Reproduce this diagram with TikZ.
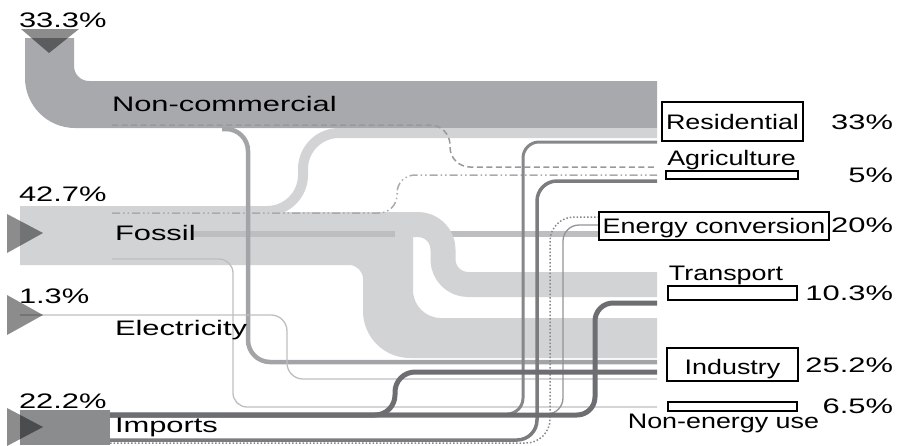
\documentclass[tikz,border=0pt]{standalone}
\usepackage{fontspec}
\setmainfont{Liberation Sans}
\newfontfamily\widefont{Liberation Sans}[FakeStretch=1.47]
\newfontfamily\boxfont{Liberation Sans}[FakeStretch=1.28]
\definecolor{ncgray}{HTML}{A7A9AC}
\definecolor{fossilgray}{HTML}{D1D3D4}
\definecolor{convgray}{HTML}{BCBEC0}
\definecolor{impgray}{HTML}{8A8C8E}
\definecolor{darkflow}{HTML}{6D6E71}
\definecolor{midflow}{HTML}{A2A4A7}
\definecolor{thinflow}{HTML}{BCBEC0}
\definecolor{greyflow}{HTML}{858789}

\begin{document}
\begin{tikzpicture}[x=1pt, y=-1pt,
    every node/.style={inner sep=0pt, outer sep=0pt},
    srclabel/.style={font=\widefont\fontsize{21}{25}\selectfont, anchor=base west},
    pctlabel/.style={font=\widefont\fontsize{21}{25}\selectfont, anchor=base east},
    sinklabel/.style={font=\boxfont\fontsize{21}{25}\selectfont, anchor=base},
    sinkbox/.style={draw, line width=1.4pt, fill=white, font=\boxfont\fontsize{21}{25}\selectfont},
    inlet/.style={fill=black, fill opacity=0.45},
    flow/.style={line width=#1, line join=round}
]
    \useasboundingbox (0,0) rectangle (899,445);

    % wide bands
    \fill[ncgray] (25,38) -- (74,38) -- (74,66) .. controls (74,74.3) and (80.7,81) .. (89,81)
        -- (657,81) -- (657,128) -- (75,128) .. controls (47.4,128) and (25,105.6) .. (25,78) -- cycle;
    \fill[fossilgray] (20,206) -- (275,206) -- (275,212) -- (413,212) -- (413,290)
        .. controls (413,305.5) and (425.5,318) .. (441,318) -- (657,318) -- (657,358) -- (410,358)
        .. controls (384,358) and (363,337) .. (363,311) -- (363,279)
        .. controls (363,271.3) and (356.7,265) .. (349,265) -- (20,265) -- cycle;
    \draw[flow=10pt, fossilgray, rounded corners=36] (20,211) -- (303,211) -- (303,133) -- (657,133);
    \draw[flow=6pt, convgray] (193,234) -- (600,234);
    \draw[flow=25pt, fossilgray, rounded corners=25] (395,224.5) -- (443,224.5) -- (443,284.5) -- (657,284.5);

    % thin flows
    \draw[flow=1.5pt, greyflow!85, dash pattern=on 6pt off 3.5pt, rounded corners=20]
        (112,125) -- (450,125) -- (450,167) -- (657,167);
    \draw[flow=1.5pt, convgray!90!black, dash pattern=on 8pt off 3pt on 1.5pt off 3pt on 1.5pt off 3pt, rounded corners=18]
        (112,213) -- (397,213) -- (397,175) -- (657,175);
    \draw[flow=4.5pt, midflow, rounded corners=22] (222,129) -- (248,129) -- (248,362) -- (657,362);
    \draw[flow=1.3pt, thinflow, rounded corners=16] (20,315) -- (287,315) -- (287,379) -- (657,379);
    \draw[flow=1.3pt, thinflow, rounded corners=14] (112,259) -- (233,259) -- (233,407) -- (657,407);

    % imports
    \fill[impgray] (20,410) rectangle (110,445);
    \draw[flow=3pt, greyflow, rounded corners=16] (110,414) -- (523,414) -- (523,142) -- (657,142);
    \draw[flow=1.3pt, greyflow!90, rounded corners=16] (110,414) -- (563,414) -- (563,225) -- (599,225);
    \draw[flow=1.5pt, greyflow, dotted, rounded corners=24] (110,443) -- (550,443) -- (550,217) -- (599,217);
    \draw[flow=3.5pt, darkflow!90, rounded corners=20] (110,440) -- (537,440) -- (537,181) -- (657,181);
    \draw[flow=5pt, darkflow, rounded corners=20] (110,415) -- (395,415) -- (395,372) -- (657,372);
    \draw[flow=5pt, darkflow, rounded corners=18] (110,415) -- (595,415) -- (595,303) -- (657,303);

    % inlets
    \fill[inlet] (21,29) -- (79,29) -- (49,53) -- cycle;
    \fill[inlet] (7,214) -- (43,233) -- (7,253) -- cycle;
    \fill[inlet] (7,295) -- (43,315) -- (7,335) -- cycle;
    \fill[inlet] (7,408) -- (43,427) -- (7,446) -- cycle;

    % sources
    \node[srclabel] (nclbl) at (112,111) {Non-commercial};
    \node[srclabel] (foslbl) at (115,240) {Fossil};
    \node[srclabel] (elelbl) at (115,335) {Electricity};
    \node[srclabel] (implbl) at (115,432) {Imports};
    \node[srclabel] (ncpct) at (19,27) {33.3\%};
    \node[srclabel] (fospct) at (19,201) {42.7\%};
    \node[srclabel] (elepct) at (19,303) {1.3\%};
    \node[srclabel] (imppct) at (19,408) {22.2\%};

    % sinks
    \node[sinkbox, minimum width=141, minimum height=39, text height=16, text depth=1] (res) at (732.5,121.5) {Residential};
    \node[sinkbox, minimum width=132, minimum height=8] (agri) at (732,175) {};
    \node[sinklabel] (agrilbl) at (731.5,165) {Agriculture};
    \node[sinkbox, minimum width=230, minimum height=28, text height=15, text depth=1] (conv) at (714,226) {Energy conversion};
    \node[sinkbox, minimum width=129, minimum height=14] (trans) at (732.5,293) {};
    \node[sinklabel] (translbl) at (726,280) {Transport};
    \node[sinkbox, minimum width=131, minimum height=33, text height=19, text depth=0] (ind) at (732.5,364.5) {Industry};
    \node[sinkbox, minimum width=129, minimum height=9] (neu) at (732.5,406.5) {};
    \node[sinklabel] (neulbl) at (723.5,428) {Non-energy use};
    \node[pctlabel] (respct) at (893,129) {33\%};
    \node[pctlabel] (agripct) at (893,182) {5\%};
    \node[pctlabel] (convpct) at (893,232) {20\%};
    \node[pctlabel] (transpct) at (893,300) {10.3\%};
    \node[pctlabel] (indpct) at (893,372) {25.2\%};
    \node[pctlabel] (neupct) at (893,413) {6.5\%};
\end{tikzpicture}
\end{document}
